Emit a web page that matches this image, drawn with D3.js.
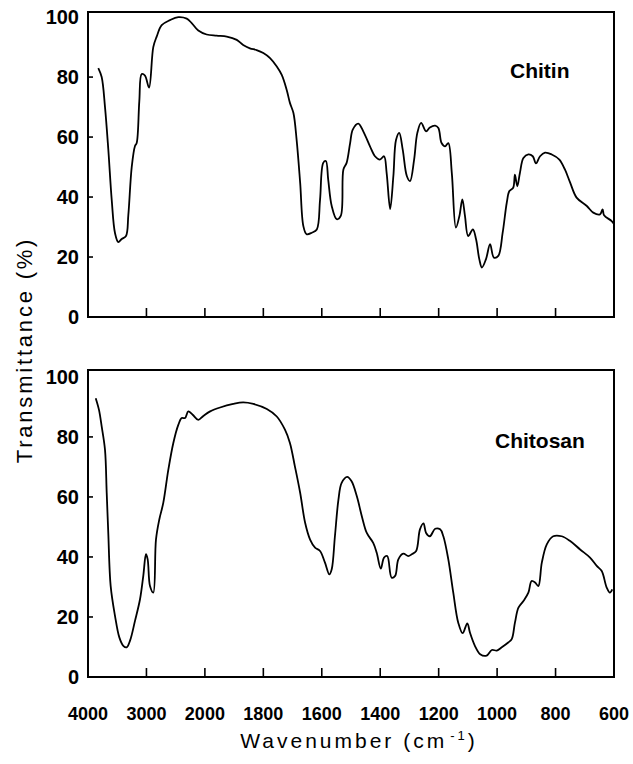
<!DOCTYPE html>
<html>
<head>
<meta charset="utf-8">
<script src="https://cdn.jsdelivr.net/npm/d3@7"></script>
<style>
  html, body { margin: 0; padding: 0; background: #fff; }
  svg { display: block; font-family: "Liberation Sans", Arial, Helvetica, sans-serif; }
</style>
</head>
<body>
<svg id="chart" width="633" height="764"></svg>
<script>
// ---- Data ----
const panelNames = ["Chitin", "Chitosan"];
const xTickValues = [4000, 3000, 2000, 1800, 1600, 1400, 1200, 1000, 800, 600];
const yTickValues = [0, 20, 40, 60, 80, 100];

const chitinWn = [3824,3766,3709,3653,3594,3538,3482,3423,3350,3310,3252,3196,3167,3122,3081,3025,2956,2883,2825,2739,2597,2455,2311,2226,2113,1994,1960,1925,1891,1869,1846,1823,1800,1777,1754,1737,1720,1709,1697,1686,1674,1663,1652,1634,1617,1606,1595,1586,1578,1566,1549,1535,1526,1515,1503,1494,1475,1458,1435,1418,1401,1387,1378,1366,1355,1346,1335,1323,1309,1298,1284,1273,1260,1243,1230,1212,1201,1190,1178,1167,1155,1141,1129,1119,1110,1099,1083,1072,1061,1052,1038,1024,1011,996,981,967,958,945,939,931,922,910,893,878,867,853,836,813,787,768,750,728,693,671,648,639,634,608,600];
const chitinT = [83,80,70,56,39,28,25,26,27,34,50,57,58,72,81,80.5,76.5,90,93.5,97.3,99,100,99.5,98,95.5,94.2,93.8,93.5,92.4,90.7,89.6,89,88,86.3,83.5,80.7,75.7,71.4,68,59,44.8,30.3,27.6,28.1,29.2,39,51.4,52,45.8,37,32.6,33.7,49.2,51.4,58,62.5,64.5,61.9,56.9,53.6,52.5,53.6,48,36,47,59,61.4,55.8,47,45.3,52.5,61.4,64.7,61.9,63.2,63.8,63,58,56.9,58,48,29.8,33.7,39.2,33.7,27,29.2,25.9,19.3,16.5,19.3,24.3,19.8,20.4,28.1,38.1,42,43.1,47.5,43.6,48,53,54.2,53.6,51.2,53.6,54.8,54.2,52.5,49.2,44.8,39.8,37,34.8,34.2,35.9,33.9,32,31];

const chitosanWn = [3868,3812,3766,3709,3680,3653,3612,3538,3464,3396,3338,3281,3196,3110,3054,3008,2979,2939,2883,2837,2780,2712,2626,2541,2455,2397,2340,2284,2209,2113,2027,1982,1948,1903,1869,1834,1788,1754,1726,1709,1692,1674,1657,1640,1623,1606,1589,1574,1566,1555,1543,1532,1513,1498,1480,1463,1446,1424,1412,1398,1387,1376,1361,1349,1338,1321,1304,1292,1277,1264,1252,1243,1230,1212,1195,1184,1167,1150,1133,1118,1102,1093,1076,1058,1036,1018,1001,984,962,950,939,927,910,893,882,870,859,847,830,808,779,750,716,682,659,642,625,614,606];
const chitosanT = [92.9,89,83.5,75.7,61.4,48,30.3,20.4,13.2,10.4,9.9,12.1,18.7,25.9,33.7,40.9,39.2,30.3,28.1,45.8,52.5,58,69,77.9,84,86.3,86.3,88.5,87.4,85.7,87,88.5,89.8,91,91.5,91,89.3,86.8,82.4,78,70.2,61.4,51.4,45.8,43.1,42,38.1,34.2,35.9,46.9,59.1,64.7,66.7,65.2,60.2,53.6,48,44.7,41.4,36.1,39.8,40.3,33.1,33.7,39.2,41.1,40.3,40.9,42,49.2,51.2,48,46.9,49.4,49.2,46.9,39.2,28.1,18.1,14.6,17.9,14.8,10.4,7.6,7.1,9,8.8,9.9,11.5,12.6,18.1,23.1,25.3,28.1,32,31.5,30.3,38.1,44.2,46.9,46.9,45.3,42.5,39.8,37,35.3,29.8,28.1,29.2];

const seriesWn = [chitinWn, chitosanWn];
const seriesT = [chitinT, chitosanT];

// ---- Layout ----
const svg = d3.select("#chart");
const left = 88, right = 614;
const panels = [
  { top: 12, bottom: 317, yMax: 101.7, labelX: 510, labelY: 78 },
  { top: 370, bottom: 677, yMax: 102.3, labelX: 495, labelY: 448 }
];

// Broken (two-segment) wavenumber scale: 4000-2000 and 2000-600
const x = d3.scaleLinear()
  .domain([4000, 2000, 600])
  .range([left, left + (right - left) * 2 / 9, right]);

const line = d3.line().curve(d3.curveCatmullRom.alpha(0.5));

panels.forEach((p, i) => {
  const y = d3.scaleLinear().domain([0, p.yMax]).range([p.bottom, p.top]);
  const g = svg.append("g");

  // y tick labels
  g.selectAll("text.ylab").data(yTickValues).enter().append("text")
    .attr("class", "ylab")
    .attr("x", left - 9)
    .attr("y", d => y(d))
    .attr("dy", "0.36em")
    .attr("text-anchor", "end")
    .attr("font-size", 20)
    .attr("font-weight", "bold")
    .text(d => d);

  // y inward ticks
  g.selectAll("line.ytick").data(yTickValues.filter(d => d > 0 && d < 100)).enter().append("line")
    .attr("x1", left).attr("x2", left + 5)
    .attr("y1", d => y(d)).attr("y2", d => y(d))
    .attr("stroke", "#000").attr("stroke-width", 1.6);

  // x inward ticks
  g.selectAll("line.xtick").data(xTickValues.slice(1, -1)).enter().append("line")
    .attr("x1", d => x(d)).attr("x2", d => x(d))
    .attr("y1", p.bottom).attr("y2", p.bottom - 9)
    .attr("stroke", "#000").attr("stroke-width", 1.6);

  // frame
  g.append("rect")
    .attr("x", left).attr("y", p.top)
    .attr("width", right - left).attr("height", p.bottom - p.top)
    .attr("fill", "none").attr("stroke", "#000").attr("stroke-width", 2);

  // spectrum
  const pts = seriesWn[i].map((w, k) => [x(w), y(seriesT[i][k])]);
  g.append("path")
    .attr("d", line(pts))
    .attr("fill", "none")
    .attr("stroke", "#000")
    .attr("stroke-width", 1.8)
    .attr("stroke-linejoin", "round");

  // panel label
  g.append("text")
    .attr("x", p.labelX).attr("y", p.labelY)
    .attr("font-size", 21).attr("font-weight", "bold")
    .text(panelNames[i]);

  // x tick labels only on the bottom panel
  if (i === panels.length - 1) {
    g.selectAll("text.xlab").data(xTickValues).enter().append("text")
      .attr("class", "xlab")
      .attr("x", d => x(d))
      .attr("y", 720)
      .attr("text-anchor", "middle")
      .attr("font-size", 18)
      .attr("font-weight", "bold")
      .text(d => d);
  }
});

// axis titles
svg.append("text")
  .attr("transform", "translate(32,350) rotate(-90)")
  .attr("text-anchor", "middle")
  .attr("font-size", 22)
  .attr("letter-spacing", "2.8px")
  .text("Transmittance (%)");

const xt = svg.append("text")
  .attr("x", 359).attr("y", 748)
  .attr("text-anchor", "middle")
  .attr("font-size", 21)
  .attr("letter-spacing", "3px");
xt.append("tspan").text("Wavenumber (cm");
xt.append("tspan").attr("dy", -8).attr("font-size", 13).attr("dx", 3).text("-1");
xt.append("tspan").attr("dy", 8).text(")");
</script>
</body>
</html>
